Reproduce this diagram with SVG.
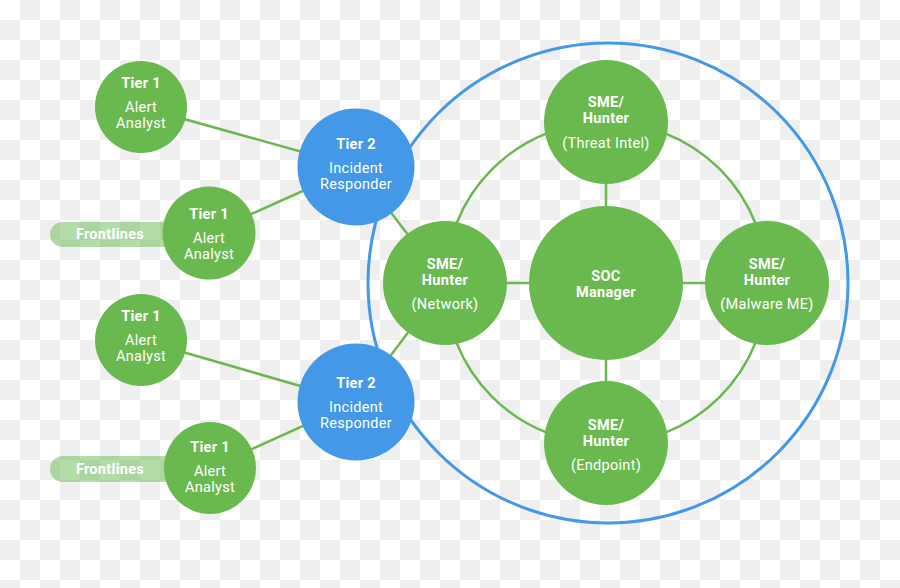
<svg xmlns="http://www.w3.org/2000/svg" width="900" height="588" viewBox="0 0 900 588">
<defs>
<pattern id="checker" width="40" height="40" patternUnits="userSpaceOnUse">
<rect width="40" height="40" fill="#ffffff"/>
<rect x="20" y="0" width="20" height="20" fill="#efefef"/>
<rect x="0" y="20" width="20" height="20" fill="#efefef"/>
</pattern>
<style>
.g{fill:#6ab94f}
.b{fill:#4398e8}
.ln{stroke:#6ab94f;stroke-width:2.5;fill:none}
.t{font-family:Roboto,"Liberation Sans",sans-serif;font-size:14.5px;letter-spacing:0.3px;fill:#ffffff;text-anchor:middle}
.bd{font-weight:bold}
.pill{fill:#6ab94f;fill-opacity:0.5}
</style>
</defs>
<rect width="900" height="588" fill="url(#checker)"/>
<circle cx="608" cy="283" r="240" fill="none" stroke="#4398e8" stroke-width="3"/>
<g id="connectors">
<circle class="ln" cx="606" cy="283" r="161"/>
<line class="ln" x1="141" y1="107" x2="356" y2="167"/>
<line class="ln" x1="209" y1="233" x2="356" y2="167"/>
<line class="ln" x1="141" y1="340" x2="356" y2="402"/>
<line class="ln" x1="210" y1="468" x2="356" y2="402"/>
<line class="ln" x1="356" y1="167" x2="445" y2="283"/>
<line class="ln" x1="356" y1="402" x2="445" y2="283"/>
<line class="ln" x1="445" y1="283" x2="767" y2="283"/>
<line class="ln" x1="606" y1="122" x2="606" y2="443"/>
</g>
<g id="frontlines1">
<rect class="pill" x="50" y="222" width="150" height="25" rx="12.5"/>
<text class="t bd" x="110" y="239">Frontlines</text>
</g>
<g id="frontlines2">
<rect class="pill" x="50" y="456" width="150" height="26" rx="13"/>
<text class="t bd" x="110" y="474">Frontlines</text>
</g>
<g id="tier1a">
<circle class="g" cx="141" cy="107" r="46"/>
<text class="t bd" x="141" y="88">Tier 1</text>
<text class="t" x="141" y="112">Alert</text>
<text class="t" x="141" y="128">Analyst</text>
</g>
<g id="tier1b">
<circle class="g" cx="209" cy="233" r="46.5"/>
<text class="t bd" x="209" y="219">Tier 1</text>
<text class="t" x="209" y="243">Alert</text>
<text class="t" x="209" y="259">Analyst</text>
</g>
<g id="tier1c">
<circle class="g" cx="141" cy="340" r="46"/>
<text class="t bd" x="141" y="321">Tier 1</text>
<text class="t" x="141" y="345">Alert</text>
<text class="t" x="141" y="361">Analyst</text>
</g>
<g id="tier1d">
<circle class="g" cx="210" cy="468" r="46"/>
<text class="t bd" x="210" y="452">Tier 1</text>
<text class="t" x="210" y="476">Alert</text>
<text class="t" x="210" y="492">Analyst</text>
</g>
<g id="tier2a">
<circle class="b" cx="356" cy="167" r="58.5"/>
<text class="t bd" x="356" y="149">Tier 2</text>
<text class="t" x="356" y="173">Incident</text>
<text class="t" x="356" y="189">Responder</text>
</g>
<g id="tier2b">
<circle class="b" cx="356" cy="402" r="58.5"/>
<text class="t bd" x="356" y="388">Tier 2</text>
<text class="t" x="356" y="412">Incident</text>
<text class="t" x="356" y="428">Responder</text>
</g>
<g id="soc">
<circle class="g" cx="606" cy="283" r="77"/>
<text class="t bd" x="606" y="281">SOC</text>
<text class="t bd" x="606" y="297">Manager</text>
</g>
<g id="sme-threat">
<circle class="g" cx="606" cy="122" r="62"/>
<text class="t bd" x="606" y="107">SME/</text>
<text class="t bd" x="606" y="123">Hunter</text>
<text class="t" x="606" y="148">(Threat Intel)</text>
</g>
<g id="sme-network">
<circle class="g" cx="445" cy="283" r="62"/>
<text class="t bd" x="445" y="269">SME/</text>
<text class="t bd" x="445" y="285">Hunter</text>
<text class="t" x="445" y="309">(Network)</text>
</g>
<g id="sme-malware">
<circle class="g" cx="767" cy="283" r="62"/>
<text class="t bd" x="767" y="269">SME/</text>
<text class="t bd" x="767" y="285">Hunter</text>
<text class="t" x="767" y="309">(Malware ME)</text>
</g>
<g id="sme-endpoint">
<circle class="g" cx="606" cy="443" r="62"/>
<text class="t bd" x="606" y="430">SME/</text>
<text class="t bd" x="606" y="446">Hunter</text>
<text class="t" x="606" y="470">(Endpoint)</text>
</g>
</svg>
